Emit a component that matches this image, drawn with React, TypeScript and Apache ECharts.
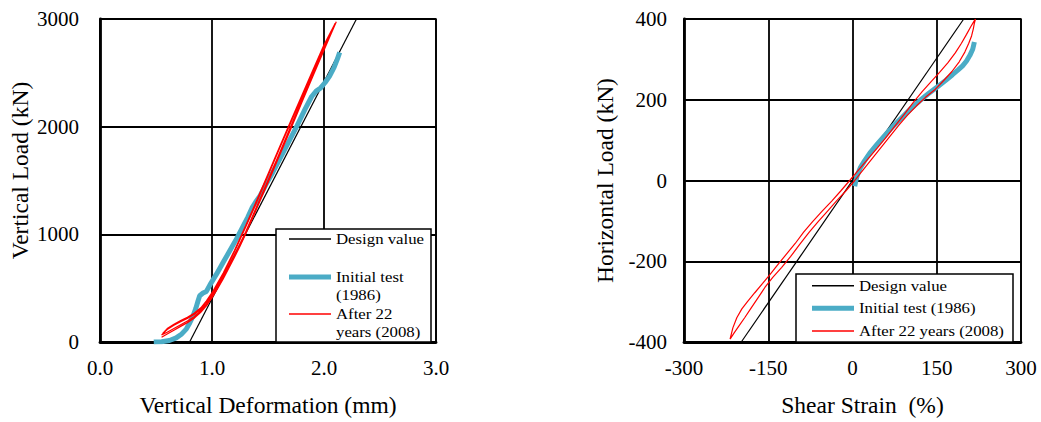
import React, { useEffect, useRef } from "react";
import * as echarts from "echarts";

// ---------- Left chart: Vertical Load vs Vertical Deformation ----------
const vDeformTicks = [0, 1, 2, 3];
const vLoadTicks = [0, 1000, 2000, 3000];

const designV = [
  [0.8, 0],
  [2.29, 3000],
];

const initialV = [
  [0.48, 0], [0.55, 2], [0.62, 14], [0.68, 38], [0.73, 75], [0.77, 120],
  [0.8, 175], [0.83, 240], [0.855, 310], [0.875, 380], [0.89, 430],
  [0.92, 455], [0.95, 470], [0.99, 545], [1.04, 630], [1.1, 740],
  [1.16, 850], [1.22, 960], [1.27, 1060], [1.32, 1160], [1.36, 1250],
  [1.39, 1300], [1.43, 1360], [1.48, 1460], [1.54, 1570], [1.6, 1690],
  [1.68, 1850], [1.76, 2010], [1.83, 2160], [1.89, 2280], [1.93, 2330],
  [1.97, 2360], [2.01, 2410], [2.05, 2470], [2.09, 2550], [2.12, 2630],
  [2.14, 2690],
];

const afterLoadA = [
  [0.55, 45], [0.6, 75], [0.66, 110], [0.72, 145], [0.78, 180], [0.84, 220],
  [0.9, 275], [0.95, 335], [1.0, 410], [1.05, 495], [1.1, 585], [1.15, 685],
  [1.2, 785], [1.25, 890], [1.3, 1000], [1.4, 1240], [1.5, 1480],
  [1.6, 1725], [1.7, 1970], [1.8, 2220], [1.9, 2465], [2.0, 2710],
  [2.11, 2975],
];
const afterUnloadA = [
  [2.11, 2975], [2.0, 2745], [1.9, 2510], [1.8, 2270], [1.7, 2030],
  [1.6, 1790], [1.5, 1545], [1.4, 1300], [1.3, 1065], [1.2, 835],
  [1.1, 625], [1.0, 445], [0.95, 370], [0.9, 305], [0.84, 255],
  [0.78, 218], [0.72, 188], [0.66, 155], [0.6, 115], [0.55, 65],
];
const afterLoadB = [
  [0.55, 65], [0.6, 90], [0.66, 125], [0.72, 160], [0.78, 195], [0.84, 235],
  [0.9, 290], [0.95, 352], [1.0, 428], [1.05, 512], [1.1, 603], [1.15, 703],
  [1.2, 805], [1.25, 912], [1.3, 1022], [1.4, 1262], [1.5, 1503],
  [1.6, 1748], [1.7, 1995], [1.8, 2245], [1.9, 2490], [2.0, 2735],
  [2.1, 2960],
];
const afterUnloadB = [
  [2.1, 2960], [2.0, 2760], [1.9, 2525], [1.8, 2285], [1.7, 2045],
  [1.6, 1805], [1.5, 1560], [1.4, 1318], [1.3, 1080], [1.2, 850],
  [1.1, 640], [1.0, 458], [0.95, 382], [0.9, 318], [0.84, 268],
  [0.78, 230], [0.72, 200], [0.66, 165], [0.6, 125], [0.56, 80],
];

// ---------- Right chart: Horizontal Load vs Shear Strain ----------
const strainTicks = [-300, -150, 0, 150, 300];
const hLoadTicks = [-400, -200, 0, 200, 400];

const designH = [
  [-198, -400],
  [198, 400],
];

const initialH = [
  [4, -14], [6, 0], [9, 15], [14, 32], [22, 50], [32, 70], [44, 90],
  [58, 112], [72, 134], [88, 156], [104, 178], [120, 198], [136, 216],
  [152, 233], [166, 248], [178, 262], [188, 274], [196, 284], [203, 296],
  [209, 310], [214, 325], [217, 343],
];

const afterUpH = [
  [-218, -393], [-213, -365], [-206, -340], [-197, -318], [-187, -300],
  [-174, -278], [-160, -255], [-147, -233], [-134, -210], [-118, -183],
  [-102, -156], [-87, -128], [-71, -102], [-54, -76], [-37, -51],
  [-21, -26], [-5, 0], [12, 28], [28, 54], [44, 80], [58, 104], [75, 134],
  [92, 164], [108, 193], [124, 220], [140, 245], [155, 268], [170, 292],
  [183, 316], [194, 340], [203, 362], [211, 382], [217, 396], [219, 400],
];
const afterDownH = [
  [219, 400], [217, 390], [215, 375], [212, 358], [207, 340], [200, 318],
  [190, 294], [177, 270], [162, 247], [146, 224], [130, 206], [114, 185],
  [98, 162], [83, 138], [68, 112], [52, 84], [36, 56], [20, 28], [4, 0],
  [-12, -26], [-28, -50], [-44, -75], [-60, -100], [-77, -128],
  [-94, -158], [-110, -188], [-126, -215], [-142, -240], [-156, -265],
  [-168, -290], [-180, -315], [-192, -340], [-203, -362], [-211, -378],
  [-218, -393],
];

const legendNames = ["Design value", "Initial test (1986)", "After 22 years (2008)"];
const leftLegendLines = [["Design value"], ["Initial test", "(1986)"], ["After 22", "years (2008)"]];

const FONT = "Liberation Serif";
const BLUE = "#4bacc6";
const RED = "#ff0000";

function axisCommon(ticks: number[]) {
  return {
    type: "value" as const,
    min: ticks[0],
    max: ticks[ticks.length - 1],
    interval: ticks[1] - ticks[0],
    axisLine: { show: true, onZero: false, lineStyle: { color: "#000", width: 2.8 } },
    axisTick: { show: false },
    splitLine: { show: true, lineStyle: { color: "#000", width: 1.8 } },
    nameLocation: "middle" as const,
    nameTextStyle: { fontFamily: FONT, fontSize: 23.5, color: "#000" },
  };
}

const labelStyle = { fontFamily: FONT, fontSize: 21, color: "#000" };

function legendText(text: string, x: number, y: number) {
  return {
    type: "text",
    x,
    y,
    scaleX: 1.12,
    style: { text, font: `15px "${FONT}"`, fill: "#000", verticalAlign: "middle", align: "left" },
    z: 101,
  };
}
function legendLine(x1: number, x2: number, y: number, stroke: string, lineWidth: number) {
  return { type: "line", shape: { x1, y1: y, x2, y2: y }, style: { stroke, lineWidth }, z: 101 };
}

export default function App() {
  const ref = useRef<HTMLDivElement>(null);
  useEffect(() => {
    const chart = echarts.init(ref.current!, null, { renderer: "svg" });
    const line = (name: string, data: number[][], idx: number, color: string, width: number) => ({
      type: "line",
      name,
      data,
      xAxisIndex: idx,
      yAxisIndex: idx,
      showSymbol: false,
      symbol: "none",
      lineStyle: { color, width },
      itemStyle: { color },
      emphasis: { disabled: true },
    });
    chart.setOption({
      animation: false,
      backgroundColor: "#fff",
      grid: [
        { left: 100, top: 19, width: 336, height: 328, show: true, borderColor: "#000", borderWidth: 1.5 },
        { left: 684, top: 19, width: 337, height: 328, show: true, borderColor: "#000", borderWidth: 1.5 },
      ],
      xAxis: [
        {
          ...axisCommon(vDeformTicks),
          gridIndex: 0,
          name: "Vertical Deformation (mm)",
          nameGap: 51,
          axisLabel: { ...labelStyle, margin: 15.5, formatter: (v: number) => v.toFixed(1) },
        },
        {
          ...axisCommon(strainTicks),
          gridIndex: 1,
          name: "Shear Strain  (%)",
          nameGap: 51,
          nameTextStyle: { fontFamily: FONT, fontSize: 23.5, color: "#000", padding: [0, 0, 0, 20] },
          axisLabel: { ...labelStyle, margin: 15.5, formatter: (v: number) => String(v) },
        },
      ],
      yAxis: [
        {
          ...axisCommon(vLoadTicks),
          gridIndex: 0,
          name: "Vertical Load (kN)",
          nameGap: 68,
          nameTextStyle: { fontFamily: FONT, fontSize: 23.5, color: "#000", padding: [0, 0, 0, 20] },
          axisLabel: { ...labelStyle, margin: 21, formatter: (v: number) => String(v) },
        },
        {
          ...axisCommon(hLoadTicks),
          gridIndex: 1,
          name: "Horizontal Load (kN)",
          nameGap: 67,
          axisLabel: { ...labelStyle, margin: 17, formatter: (v: number) => String(v) },
        },
      ],
      graphic: [
        {
          type: "group",
          z: 100,
          children: [
            // left legend
            { type: "rect", shape: { x: 276, y: 229, width: 155, height: 113 }, style: { fill: "#fff", stroke: "#000", lineWidth: 1.5 }, z: 100 },
            legendLine(289, 331, 239, "#000", 1.5),
            legendLine(289, 331, 277, BLUE, 5),
            legendLine(289, 331, 314, RED, 1.5),
            legendText(leftLegendLines[0][0], 336, 239),
            legendText(leftLegendLines[1][0], 336, 277),
            legendText(leftLegendLines[1][1], 336, 295),
            legendText(leftLegendLines[2][0], 336, 314),
            legendText(leftLegendLines[2][1], 336, 332),
            // right legend
            { type: "rect", shape: { x: 796, y: 274, width: 217, height: 68 }, style: { fill: "#fff", stroke: "#000", lineWidth: 1.5 }, z: 100 },
            legendLine(812, 854, 285.7, "#000", 1.5),
            legendLine(812, 854, 308.3, BLUE, 5),
            legendLine(812, 854, 331, RED, 1.5),
            legendText(legendNames[0], 859, 285.7),
            legendText(legendNames[1], 859, 308.3),
            legendText(legendNames[2], 859, 331),
          ],
        },
      ],
      series: [
        line("Design value (vertical)", designV, 0, "#000", 1.2),
        line("Initial test (vertical)", initialV, 0, BLUE, 5),
        line("After 22 years (vertical)", [...afterLoadA, ...afterUnloadA, ...afterLoadB, ...afterUnloadB], 0, RED, 1.2),
        line(legendNames[0], designH, 1, "#000", 1.2),
        line(legendNames[1], initialH, 1, BLUE, 5),
        line(legendNames[2], [...afterUpH, ...afterDownH], 1, RED, 1.2),
      ],
    });
    return () => chart.dispose();
  }, []);
  return (
    <div
      ref={ref}
      style={{ position: "fixed", left: 0, top: 0, width: 1041, height: 422, background: "#fff" }}
    />
  );
}
